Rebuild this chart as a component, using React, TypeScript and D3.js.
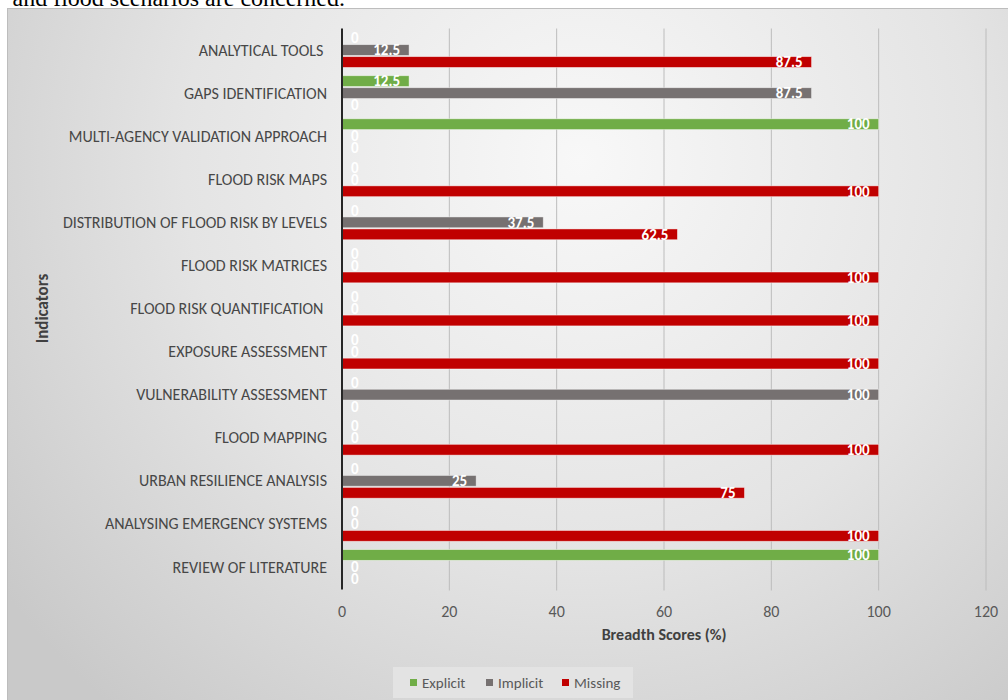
import React from 'react';
import * as d3 from 'd3';

const categories = [
  "ANALYTICAL TOOLS ",
  "GAPS IDENTIFICATION",
  "MULTI-AGENCY VALIDATION APPROACH",
  "FLOOD RISK MAPS",
  "DISTRIBUTION OF FLOOD RISK BY LEVELS",
  "FLOOD RISK MATRICES",
  "FLOOD RISK QUANTIFICATION ",
  "EXPOSURE ASSESSMENT",
  "VULNERABILITY ASSESSMENT",
  "FLOOD MAPPING",
  "URBAN RESILIENCE ANALYSIS",
  "ANALYSING EMERGENCY SYSTEMS",
  "REVIEW OF LITERATURE",
];
const explicitValues = [0, 12.5, 100, 0, 0, 0, 0, 0, 0, 0, 0, 0, 100];
const implicitValues = [12.5, 87.5, 0, 0, 37.5, 0, 0, 0, 100, 0, 25, 0, 0];
const missingValues = [87.5, 0, 0, 100, 62.5, 100, 100, 100, 0, 100, 75, 100, 0];
const seriesNames = ["Explicit", "Implicit", "Missing"];
const seriesColors = ["#70ad47", "#767171", "#c00000"];
const xTicks = [0, 20, 40, 60, 80, 100, 120];

const FONT = "Carlito, Lato, 'DejaVu Sans', sans-serif";

export default function App() {
  const W = 1008, H = 700;
  const x = d3.scaleLinear().domain([0, 120]).range([342, 986]);
  const y = d3.scaleBand<string>().domain(categories).range([28.5, 588.5]).padding(0);
  const inner = d3.scaleBand<string>().domain(seriesNames).range([0, y.bandwidth()]).paddingInner(0).paddingOuter(0.295);
  const seriesData = [explicitValues, implicitValues, missingValues];
  const barH = inner.bandwidth() - 1.2;
  const yTop = y.range()[0];
  const yBot = y.range()[1];

  const legendX = [410, 486, 562];

  return (
    <svg width={W} height={H} style={{ position: 'absolute', left: 0, top: 0, display: 'block' }}>
      <defs>
        <radialGradient id="bg" gradientUnits="userSpaceOnUse" cx="580" cy="160" r="720">
          <stop offset="0" stopColor="#f8f8f8" />
          <stop offset="0.55" stopColor="#e4e4e4" />
          <stop offset="1" stopColor="#c9c9c9" />
        </radialGradient>
      </defs>
      <rect x={0} y={0} width={W} height={H} fill="#ffffff" />
      <text x={345} y={6} textAnchor="end" fontFamily="'Liberation Serif', 'Times New Roman', serif" fontSize={24} fill="#000">
        and flood scenarios are concerned.
      </text>
      <rect x={7.5} y={8.5} width={1001} height={692} fill="url(#bg)" stroke="#bdbdbd" strokeWidth={1} />

      {/* gridlines */}
      {xTicks.filter(t => t > 0).map(t => (
        <line key={t} x1={x(t)} x2={x(t)} y1={yTop} y2={yBot + 2} stroke="#bcbcbc" strokeWidth={1} />
      ))}

      {/* bars */}
      {categories.map((c, ci) => (
        <g key={c} transform={`translate(0,${y(c)})`}>
          {seriesNames.map((s, si) => {
            const v = seriesData[si][ci];
            const cy = (inner(s) as number) + inner.bandwidth() / 2;
            return (
              <g key={s}>
                {v > 0 && (
                  <rect x={x(0)} y={cy - barH / 2} width={x(v) - x(0)} height={barH}
                    fill={seriesColors[si]} stroke="rgba(255,255,255,0.55)" strokeWidth={0.8} />
                )}
                <text
                  x={v > 0 ? x(v) - 9 : x(0) + 9}
                  y={cy}
                  dy="0.35em"
                  textAnchor={v > 0 ? 'end' : 'start'}
                  fontFamily={FONT}
                  fontSize={15}
                  fontWeight={600}
                  fill="#ffffff"
                >{v}</text>
              </g>
            );
          })}
        </g>
      ))}

      {/* y axis line */}
      <line x1={x(0)} x2={x(0)} y1={yTop} y2={yBot + 1} stroke="#262626" strokeWidth={2} />

      {/* category labels */}
      {categories.map(c => (
        <text key={c} x={327} y={(y(c) as number) + y.bandwidth() / 2} dy="0.35em" textAnchor="end"
          fontFamily={FONT} fontSize={16} fill="#474747" style={{ whiteSpace: 'pre' }}>{c}</text>
      ))}

      {/* x tick labels */}
      {xTicks.map(t => (
        <text key={t} x={x(t)} y={611} dy="0.35em" textAnchor="middle" fontFamily={FONT} fontSize={16} fill="#595959">{t}</text>
      ))}

      {/* axis titles */}
      <text x={x(60)} y={634} dy="0.35em" textAnchor="middle" fontFamily={FONT} fontSize={16} fontWeight="bold" fill="#404040">Breadth Scores (%)</text>
      <text transform={`translate(42,${(yTop + yBot) / 2}) rotate(-90)`} dy="0.35em" textAnchor="middle" fontFamily={FONT} fontSize={17} fontWeight="bold" fill="#404040">Indicators</text>

      {/* legend */}
      <rect x={393} y={667} width={240} height={31} fill="#e3e3e3" />
      {seriesNames.map((s, i) => (
        <g key={s}>
          <rect x={legendX[i]} y={679} width={7} height={7} fill={seriesColors[i]} />
          <text x={legendX[i] + 12} y={682.5} dy="0.35em" fontFamily={FONT} fontSize={15} fill="#595959">{s}</text>
        </g>
      ))}
    </svg>
  );
}
